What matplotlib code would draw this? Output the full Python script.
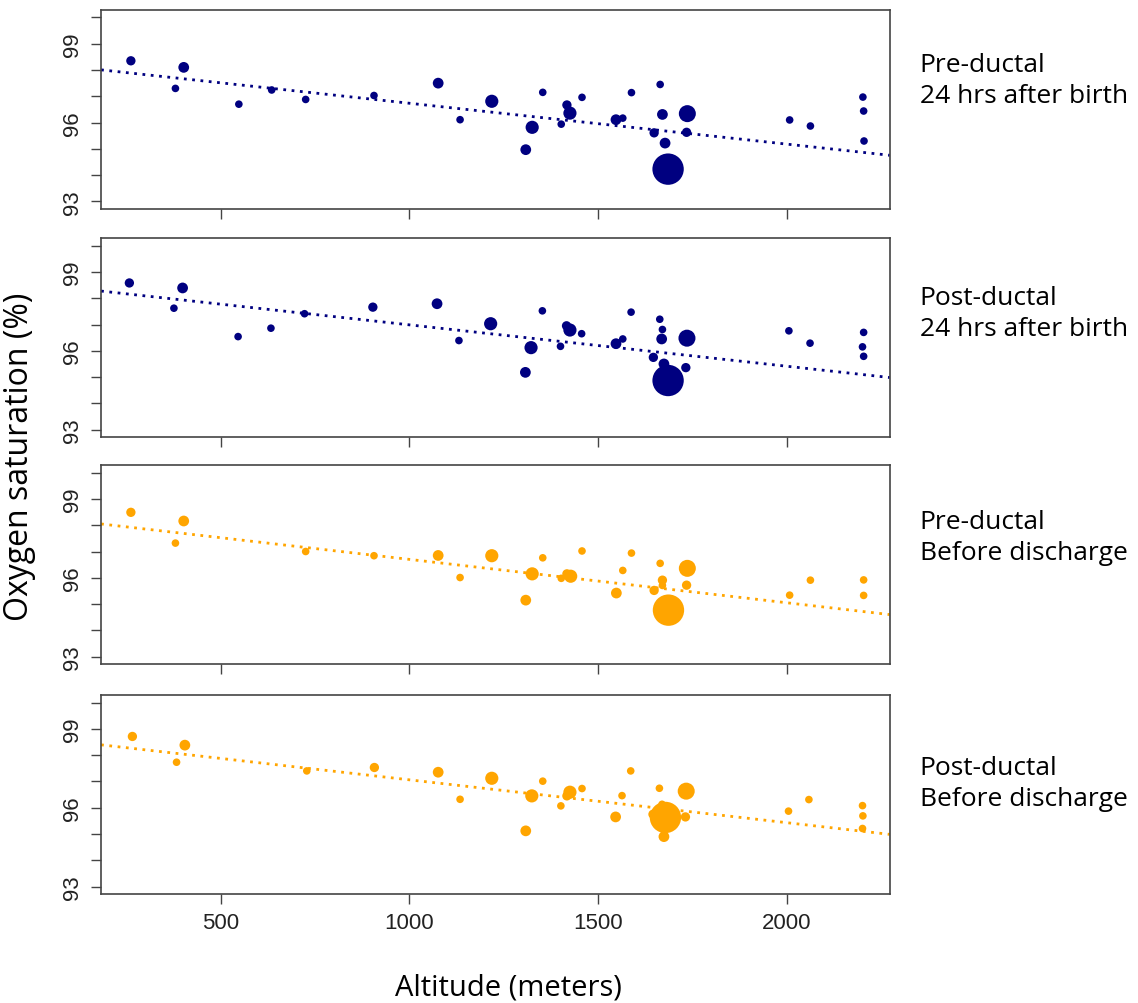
import matplotlib.pyplot as plt

# altitude (m), oxygen saturation (%), relative weight (number of births)
alt_1 = [262, 380, 402, 548, 635, 725, 906, 1076, 1134, 1218, 1308, 1325, 1353, 1402, 1417, 1425,
         1457, 1547, 1565, 1588, 1648, 1664, 1670, 1677, 1685, 1736, 1734, 2007, 2062, 2201, 2203, 2204]
sat_1 = [98.35, 97.30, 98.10, 96.70, 97.24, 96.88, 97.03, 97.50, 96.11, 96.81, 94.97, 95.82, 97.15, 95.94, 96.67, 96.36,
         96.96, 96.11, 96.17, 97.14, 95.61, 97.45, 96.31, 95.22, 94.23, 96.34, 95.63, 96.10, 95.87, 96.97, 96.44, 95.30]
w_1 = [1.5, 1, 2, 1, 1, 1, 1, 2, 1, 3, 2, 3, 1, 1, 1.5, 3,
       1, 2, 1, 1, 1.5, 1, 2, 2, 17, 5, 1.5, 1, 1, 1, 1, 1]

alt_2 = [258, 376, 399, 546, 633, 722, 903, 1073, 1131, 1215, 1307, 1322, 1352, 1400, 1416, 1425, 1456,
         1547, 1565, 1587, 1646, 1663, 1670, 1668, 1674, 1685, 1735, 1732, 2005, 2061, 2203, 2200, 2203]
sat_2 = [98.58, 97.62, 98.39, 96.54, 96.86, 97.41, 97.66, 97.79, 96.39, 97.03, 95.18, 96.12, 97.52, 96.17, 96.95, 96.79, 96.65,
         96.27, 96.45, 97.47, 95.75, 97.20, 96.81, 96.45, 95.50, 94.87, 96.48, 95.36, 96.76, 96.29, 96.70, 96.15, 95.79]
w_2 = [1.5, 1, 2, 1, 1, 1, 1.5, 2, 1, 3, 2, 3, 1, 1, 1.5, 3, 1,
       2, 1, 1, 1.5, 1, 1, 2, 2, 17, 5, 1.5, 1, 1, 1, 1, 1]

alt_3 = [262, 380, 402, 725, 906, 1076, 1134, 1218, 1308, 1325, 1353, 1402, 1417, 1427, 1457,
         1548, 1565, 1588, 1648, 1664, 1670, 1670, 1686, 1736, 1734, 2007, 2062, 2203, 2203]
sat_3 = [98.49, 97.32, 98.16, 97.00, 96.84, 96.85, 96.01, 96.84, 95.15, 96.15, 96.76, 95.98, 96.15, 96.06, 97.02,
         95.42, 96.28, 96.94, 95.52, 96.55, 95.91, 95.71, 94.77, 96.36, 95.72, 95.34, 95.91, 95.92, 95.33]
w_3 = [1.5, 1, 2, 1, 1, 2, 1, 3, 2, 3, 1, 1, 1.5, 3, 1,
       2, 1, 1, 1.5, 1, 1.5, 1, 17, 5, 1.5, 1, 1, 1, 1]

alt_4 = [266, 383, 405, 728, 907, 1076, 1134, 1218, 1308, 1324, 1353, 1401, 1417, 1425, 1457,
         1546, 1563, 1586, 1645, 1662, 1669, 1674, 1678, 1733, 1731, 2004, 2058, 2200, 2201, 2200]
sat_4 = [98.71, 97.73, 98.38, 97.40, 97.53, 97.35, 96.32, 97.12, 95.12, 96.45, 97.01, 96.07, 96.45, 96.59, 96.73,
         95.65, 96.46, 97.40, 95.75, 96.74, 96.13, 94.90, 95.63, 96.63, 95.65, 95.87, 96.31, 96.08, 95.69, 95.21]
w_4 = [1.5, 1, 2, 1, 1.5, 2, 1, 3, 2, 3, 1, 1, 1.5, 3, 1,
       2, 1, 1, 1.5, 1, 1, 2, 17, 5, 1.5, 1, 1, 1, 1, 1]

# fitted trend lines (intercept at 0 m, slope per m)
trend_intercept = [98.29, 98.56, 98.35, 98.69]
trend_slope = [-0.001555, -0.001574, -0.00165, -0.00163]

panel_labels = ["Pre-ductal\n24 hrs after birth", "Post-ductal\n24 hrs after birth",
                "Pre-ductal\nBefore discharge", "Post-ductal\nBefore discharge"]
panel_colors = ["#000080", "#000080", "#FFA500", "#FFA500"]

alts = [alt_1, alt_2, alt_3, alt_4]
sats = [sat_1, sat_2, sat_3, sat_4]
weights = [w_1, w_2, w_3, w_4]

fig = plt.figure(figsize=(11.38, 10.04), dpi=100)
bottoms = [0.791, 0.5637, 0.3376, 0.1086]
label_y = [0.9193, 0.6873, 0.4641, 0.2191]
xlim = (183, 2272)

for i in range(4):
    ax = fig.add_axes([0.0888, bottoms[i], 0.693, 0.198])
    col = panel_colors[i]
    ax.scatter(alts[i], sats[i], s=[30 * w for w in weights[i]], color=col,
               edgecolors='none', zorder=3)
    ax.axline((0, trend_intercept[i]), slope=trend_slope[i], color=col,
              linestyle=(0, (1, 2)), linewidth=2, zorder=2)
    ax.set_xlim(xlim)
    ax.set_ylim(92.72, 100.28)
    ax.set_yticks(range(93, 101))
    ax.set_yticklabels(["93", "", "", "96", "", "", "99", ""], rotation=90, va='center',
                       fontsize=16, family='Liberation Sans', color='#222222')
    ax.set_xticks([500, 1000, 1500, 2000])
    if i == 3:
        ax.set_xticklabels(["500", "1000", "1500", "2000"], fontsize=16,
                           family='Liberation Sans', color='#222222')
    else:
        ax.set_xticklabels([])
    ax.tick_params(direction='out', length=7, width=1, color='#444444', pad=6)
    for sp in ax.spines.values():
        sp.set_color('#444444')
        sp.set_linewidth(1.2)
    fig.text(0.808, label_y[i], panel_labels[i], fontsize=19, family='Open Sans',
             va='center', ha='left', linespacing=1.3)

fig.text(0.017, 0.545, "Oxygen saturation (%)", rotation=90, fontsize=23,
         family='Open Sans', va='center', ha='center')
fig.text(0.447, 0.016, "Altitude (meters)", fontsize=21, family='Open Sans',
         va='center', ha='center')

fig.savefig("out.png", dpi=100)
